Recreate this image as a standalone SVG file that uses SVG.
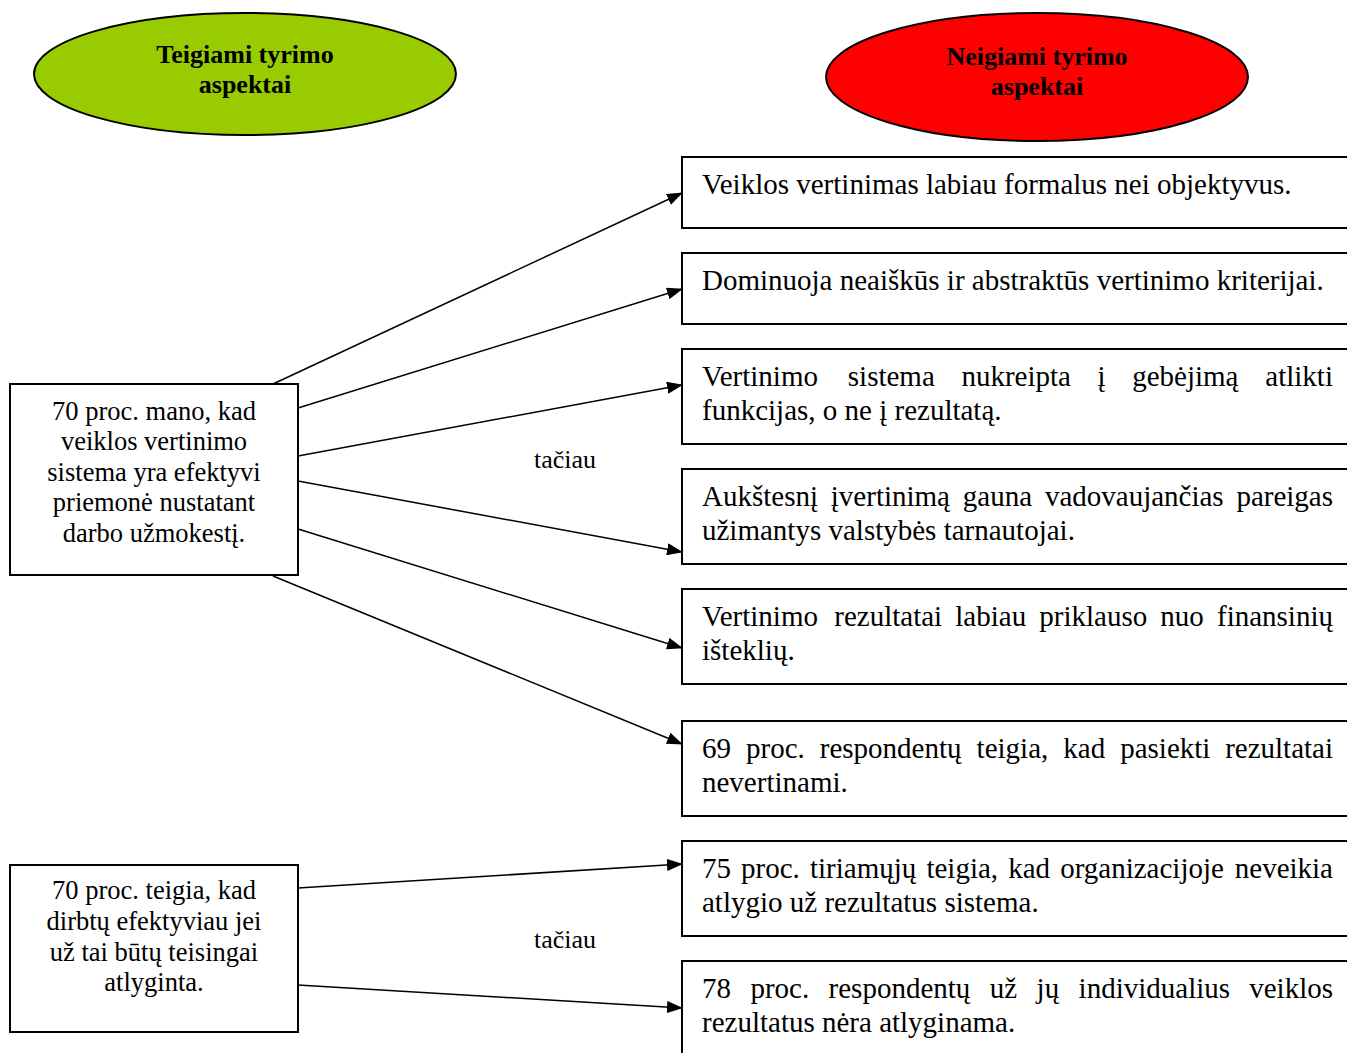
<svg xmlns="http://www.w3.org/2000/svg" width="1347" height="1053" viewBox="0 0 1347 1053">
  <style>
    .box { fill: #ffffff; stroke: #000000; stroke-width: 2; }
    .oval { stroke: #000000; stroke-width: 2; }
    .head { font-family: "Liberation Serif", "Times New Roman", serif; font-size: 26px; font-weight: bold; fill: #000000; text-anchor: middle; }
    .src { font-family: "Liberation Serif", "Times New Roman", serif; font-size: 26.5px; fill: #000000; text-anchor: middle; }
    .item { font-family: "Liberation Serif", "Times New Roman", serif; font-size: 29px; fill: #000000; }
    .conj { font-family: "Liberation Serif", "Times New Roman", serif; font-size: 26px; fill: #000000; text-anchor: middle; }
    .link { stroke: #000000; stroke-width: 1.5; fill: none; marker-end: url(#arrow); }
    .end { text-anchor: end; }
  </style>
  <defs>
    <marker id="arrow" markerUnits="userSpaceOnUse" markerWidth="16" markerHeight="12" refX="15" refY="6" orient="auto">
      <path d="M0,0 L16,6 L0,12 Z" fill="#000000"/>
    </marker>
  </defs>

  <rect width="1347" height="1053" fill="#ffffff"/>

  <!-- headings -->
  <g id="positive-heading">
    <ellipse class="oval" cx="245" cy="74" rx="211" ry="61" fill="#99cc00"/>
    <text class="head" x="245" y="63">Teigiami tyrimo</text>
    <text class="head" x="245" y="93">aspektai</text>
  </g>
  <g id="negative-heading">
    <ellipse class="oval" cx="1037" cy="77" rx="211" ry="64" fill="#ff0000"/>
    <text class="head" x="1037" y="65">Neigiami tyrimo</text>
    <text class="head" x="1037" y="95">aspektai</text>
  </g>

  <!-- connectors -->
  <g id="connectors">
    <line class="link" x1="273" y1="384" x2="682" y2="193"/>
    <line class="link" x1="298" y1="408" x2="682" y2="289"/>
    <line class="link" x1="298" y1="456" x2="682" y2="385"/>
    <line class="link" x1="298" y1="481" x2="682" y2="552"/>
    <line class="link" x1="298" y1="529" x2="682" y2="648"/>
    <line class="link" x1="273" y1="576" x2="682" y2="744"/>
    <line class="link" x1="298" y1="888" x2="682" y2="864"/>
    <line class="link" x1="298" y1="985" x2="682" y2="1008"/>
  </g>

  <!-- "however" labels between the columns -->
  <g id="label-1"><text class="conj" x="565" y="468">tačiau</text></g>
  <g id="label-2"><text class="conj" x="565" y="948">tačiau</text></g>

  <!-- left column -->
  <g id="source-1">
    <rect class="box" x="10" y="384" width="288" height="191"/>
    <text class="src" x="154" y="420">70 proc. mano, kad</text>
    <text class="src" x="154" y="450">veiklos vertinimo</text>
    <text class="src" x="154" y="481">sistema yra efektyvi</text>
    <text class="src" x="154" y="511">priemonė nustatant</text>
    <text class="src" x="154" y="542">darbo užmokestį.</text>
  </g>
  <g id="source-2">
    <rect class="box" x="10" y="865" width="288" height="167"/>
    <text class="src" x="154" y="899">70 proc. teigia, kad</text>
    <text class="src" x="154" y="930">dirbtų efektyviau jei</text>
    <text class="src" x="154" y="961">už tai būtų teisingai</text>
    <text class="src" x="154" y="991">atlyginta.</text>
  </g>

  <!-- right column -->
  <g id="item-1">
    <rect class="box" x="682" y="157" width="680" height="71"/>
    <text class="item" x="702" y="194">Veiklos vertinimas labiau formalus nei objektyvus.</text>
  </g>
  <g id="item-2">
    <rect class="box" x="682" y="253" width="680" height="71"/>
    <text class="item" x="702" y="290">Dominuoja neaiškūs ir abstraktūs vertinimo kriterijai.</text>
  </g>
  <g id="item-3">
    <rect class="box" x="682" y="349" width="680" height="95"/>
    <text class="item" y="386"><tspan x="702">Vertinimo</tspan><tspan x="847.8">sistema</tspan><tspan x="961.4">nukreipta</tspan><tspan x="1097.5">į</tspan><tspan x="1132.2">gebėjimą</tspan><tspan x="1333" class="end">atlikti</tspan></text>
    <text class="item" x="702" y="420">funkcijas, o ne į rezultatą.</text>
  </g>
  <g id="item-4">
    <rect class="box" x="682" y="469" width="680" height="95"/>
    <text class="item" y="506"><tspan x="702">Aukštesnį</tspan><tspan x="830.8">įvertinimą</tspan><tspan x="962.8">gauna</tspan><tspan x="1044.9">vadovaujančias</tspan><tspan x="1333" class="end">pareigas</tspan></text>
    <text class="item" x="702" y="540">užimantys valstybės tarnautojai.</text>
  </g>
  <g id="item-5">
    <rect class="box" x="682" y="589" width="680" height="95"/>
    <text class="item" y="626"><tspan x="702">Vertinimo</tspan><tspan x="834.3">rezultatai</tspan><tspan x="955.3">labiau</tspan><tspan x="1039.3">priklauso</tspan><tspan x="1160.3">nuo</tspan><tspan x="1333" class="end">finansinių</tspan></text>
    <text class="item" x="702" y="660">išteklių.</text>
  </g>
  <g id="item-6">
    <rect class="box" x="682" y="721" width="680" height="95"/>
    <text class="item" y="758"><tspan x="702">69</tspan><tspan x="746">proc.</tspan><tspan x="819.8">respondentų</tspan><tspan x="976.6">teigia,</tspan><tspan x="1063.3">kad</tspan><tspan x="1120.2">pasiekti</tspan><tspan x="1333" class="end">rezultatai</tspan></text>
    <text class="item" x="702" y="792">nevertinami.</text>
  </g>
  <g id="item-7">
    <rect class="box" x="682" y="841" width="680" height="95"/>
    <text class="item" y="878"><tspan x="702">75</tspan><tspan x="741.1">proc.</tspan><tspan x="810">tiriamųjų</tspan><tspan x="926.4">teigia,</tspan><tspan x="1008.2">kad</tspan><tspan x="1060.2">organizacijoje</tspan><tspan x="1333" class="end">neveikia</tspan></text>
    <text class="item" x="702" y="912">atlygio už rezultatus sistema.</text>
  </g>
  <g id="item-8">
    <rect class="box" x="682" y="961" width="680" height="110"/>
    <text class="item" y="998"><tspan x="702">78</tspan><tspan x="750.4">proc.</tspan><tspan x="828.6">respondentų</tspan><tspan x="989.8">už</tspan><tspan x="1036.6">jų</tspan><tspan x="1078.6">individualius</tspan><tspan x="1333" class="end">veiklos</tspan></text>
    <text class="item" x="702" y="1032">rezultatus nėra atlyginama.</text>
  </g>
</svg>
